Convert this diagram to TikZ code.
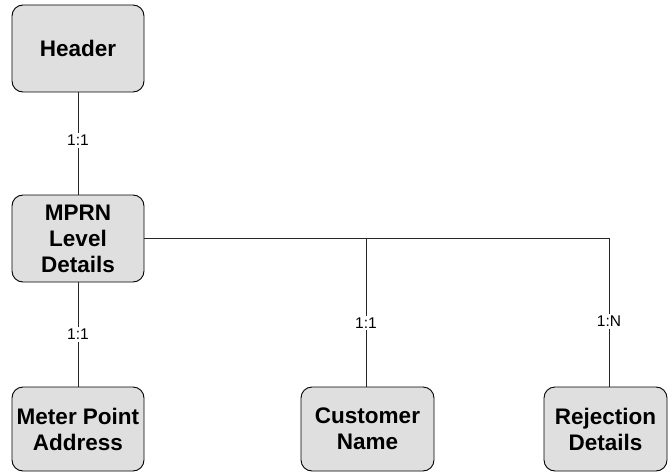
\documentclass[tikz,border=0pt]{standalone}
\usepackage{fontspec}
\setmainfont{Liberation Sans}
\begin{document}
\begin{tikzpicture}[x=1pt,y=-1pt,
  entity/.style={draw=black, line width=0.9pt, fill=gray!25, rounded corners=11pt,
    align=center, inner sep=0pt, font=\fontsize{22.5}{26}\selectfont\bfseries},
  conn/.style={draw=black!85, line width=0.8pt},
  card/.style={fill=white, inner sep=2pt, font=\fontsize{15.5}{18}\selectfont}]
\useasboundingbox (0,0) rectangle (668,473);
\node[entity, minimum width=132pt, minimum height=87pt] (hdr) at (78,48.5) {Header};
\node[entity, minimum width=132pt, minimum height=87pt] (mprn) at (78,238.5) {MPRN\\Level\\Details};
\node[entity, minimum width=132pt, minimum height=84pt] (mpa) at (78,429) {Meter Point\\Address};
\node[entity, minimum width=133pt, minimum height=84pt] (cust) at (367.5,429) {Customer\\Name};
\node[entity, minimum width=123pt, minimum height=84pt] (rej) at (605.5,429) {Rejection\\Details};
\coordinate (corner) at (609,238.5);
\coordinate (tee) at (366,238.5);
\draw[conn] (hdr) -- (mprn) node[card, pos=0.47] {1:1};
\draw[conn] (mprn) -- (mpa) node[card, pos=0.5] {1:1};
\draw[conn] (mprn.east) -- (corner) -- (rej.north -| corner) node[card, pos=0.56] {1:N};
\draw[conn] (tee) -- (cust.north -| tee) node[card, pos=0.57] {1:1};
\end{tikzpicture}
\end{document}
